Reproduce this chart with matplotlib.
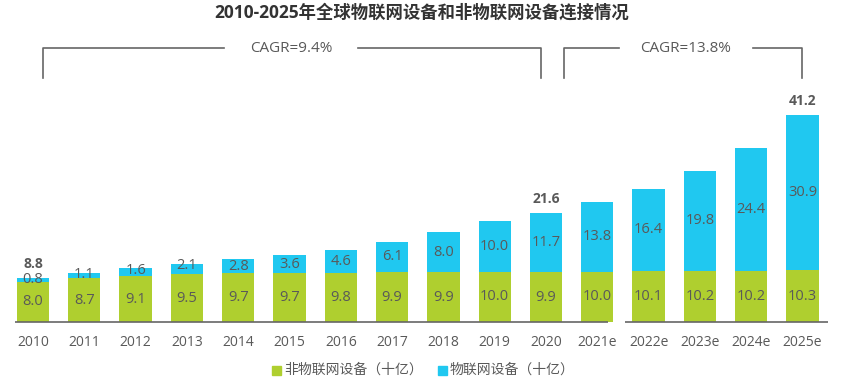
import numpy as np
import matplotlib.pyplot as plt
from matplotlib.patches import Rectangle

plt.rcParams['font.family'] = ['Open Sans', 'Noto Sans CJK SC', 'DejaVu Sans']

years = ["2010", "2011", "2012", "2013", "2014", "2015", "2016", "2017", "2018",
         "2019", "2020", "2021e", "2022e", "2023e", "2024e", "2025e"]
non_iot = [8.0, 8.7, 9.1, 9.5, 9.7, 9.7, 9.8, 9.9, 9.9, 10.0, 9.9, 10.0, 10.1, 10.2, 10.2, 10.3]
iot = [0.8, 1.1, 1.6, 2.1, 2.8, 3.6, 4.6, 6.1, 8.0, 10.0, 11.7, 13.8, 16.4, 19.8, 24.4, 30.9]
totals = {0: "8.8", 10: "21.6", 15: "41.2"}
cagr_labels = ["CAGR=9.4%", "CAGR=13.8%"]
legend_labels = ["非物联网设备（十亿）", "物联网设备（十亿）"]

GREEN = "#AFCF2F"
BLUE = "#20C8F0"
TXT = "#595959"
LINE = "#666666"

W, H = 844, 380
px_per_unit = 5.03   # vertical pixels per billion
spacing = 51.3        # horizontal pixels per bar
x0 = 33               # pixel centre of first bar
base = 322            # baseline pixel (from top)

fig = plt.figure(figsize=(W / 100, H / 100), dpi=100)
ax = fig.add_axes([0, (H - base) / H, 1, base / H])
ax.set_xlim(-x0 / spacing, (W - x0) / spacing)
ax.set_ylim(0, base / px_per_unit)
ax.axis("off")

x = np.arange(len(years))
ax.bar(x, non_iot, width=0.63, color=GREEN, zorder=2)
ax.bar(x, iot, width=0.63, bottom=non_iot, color=BLUE, zorder=2)

# segment labels
for i in range(len(years)):
    ax.text(x[i], non_iot[i] / 2, f"{non_iot[i]:.1f}", ha="center", va="center",
            fontsize=10.5, color=TXT, zorder=3)
    yb = non_iot[i] + iot[i] / 2
    if iot[i] < 2.5:
        yb = non_iot[i] + iot[i] - 0.4
    ax.text(x[i], yb, f"{iot[i]:.1f}", ha="center", va="center",
            fontsize=10.5, color=TXT, zorder=3)

# totals
for i, lab in totals.items():
    ax.text(x[i], non_iot[i] + iot[i] + 1.4, lab, ha="center", va="bottom",
            fontsize=10, fontweight="bold", color=TXT)

# x tick labels
for i, lab in enumerate(years):
    ax.text(x[i], -4.0, lab, ha="center", va="center", fontsize=10, color=TXT, clip_on=False)

# baseline with a gap between the actual/forecast blocks
ax.plot([-0.35, 11.2], [0, 0], color=LINE, lw=1.2, solid_capstyle="butt", clip_on=False)
ax.plot([11.54, 15.5], [0, 0], color=LINE, lw=1.2, solid_capstyle="butt", clip_on=False)

# CAGR brackets
top_y = (base - 48) / px_per_unit
bot_y = (base - 78) / px_per_unit


def bracket(xl, xr, xm, label, gap):
    ax.plot([xl, xl, xm - gap], [bot_y, top_y, top_y], color=LINE, lw=1.2, clip_on=False)
    ax.plot([xm + gap, xr, xr], [top_y, top_y, bot_y], color=LINE, lw=1.2, clip_on=False)
    ax.text(xm, top_y, label, ha="center", va="center", fontsize=11, color=TXT)


bracket(0.2, 9.9, (291 - x0) / spacing, cagr_labels[0], 1.3)
bracket(10.35, 15.0, (686 - x0) / spacing, cagr_labels[1], 1.3)

fig.text(0.5, 1 - 13 / H, "2010-2025年全球物联网设备和非物联网设备连接情况", ha="center",
         va="center", fontsize=12.5, fontweight="bold", color="#333333")

# legend
ly = 1 - 370 / H
for lx, col, lab in [(272, GREEN, legend_labels[0]), (438, BLUE, legend_labels[1])]:
    fig.patches.append(Rectangle((lx / W, ly - 4.5 / H), 9 / W, 9 / H, color=col,
                                 transform=fig.transFigure, figure=fig))
    fig.text((lx + 12) / W, ly, lab, ha="left", va="center", fontsize=10, color=TXT)

fig.savefig("out.png", dpi=100)
